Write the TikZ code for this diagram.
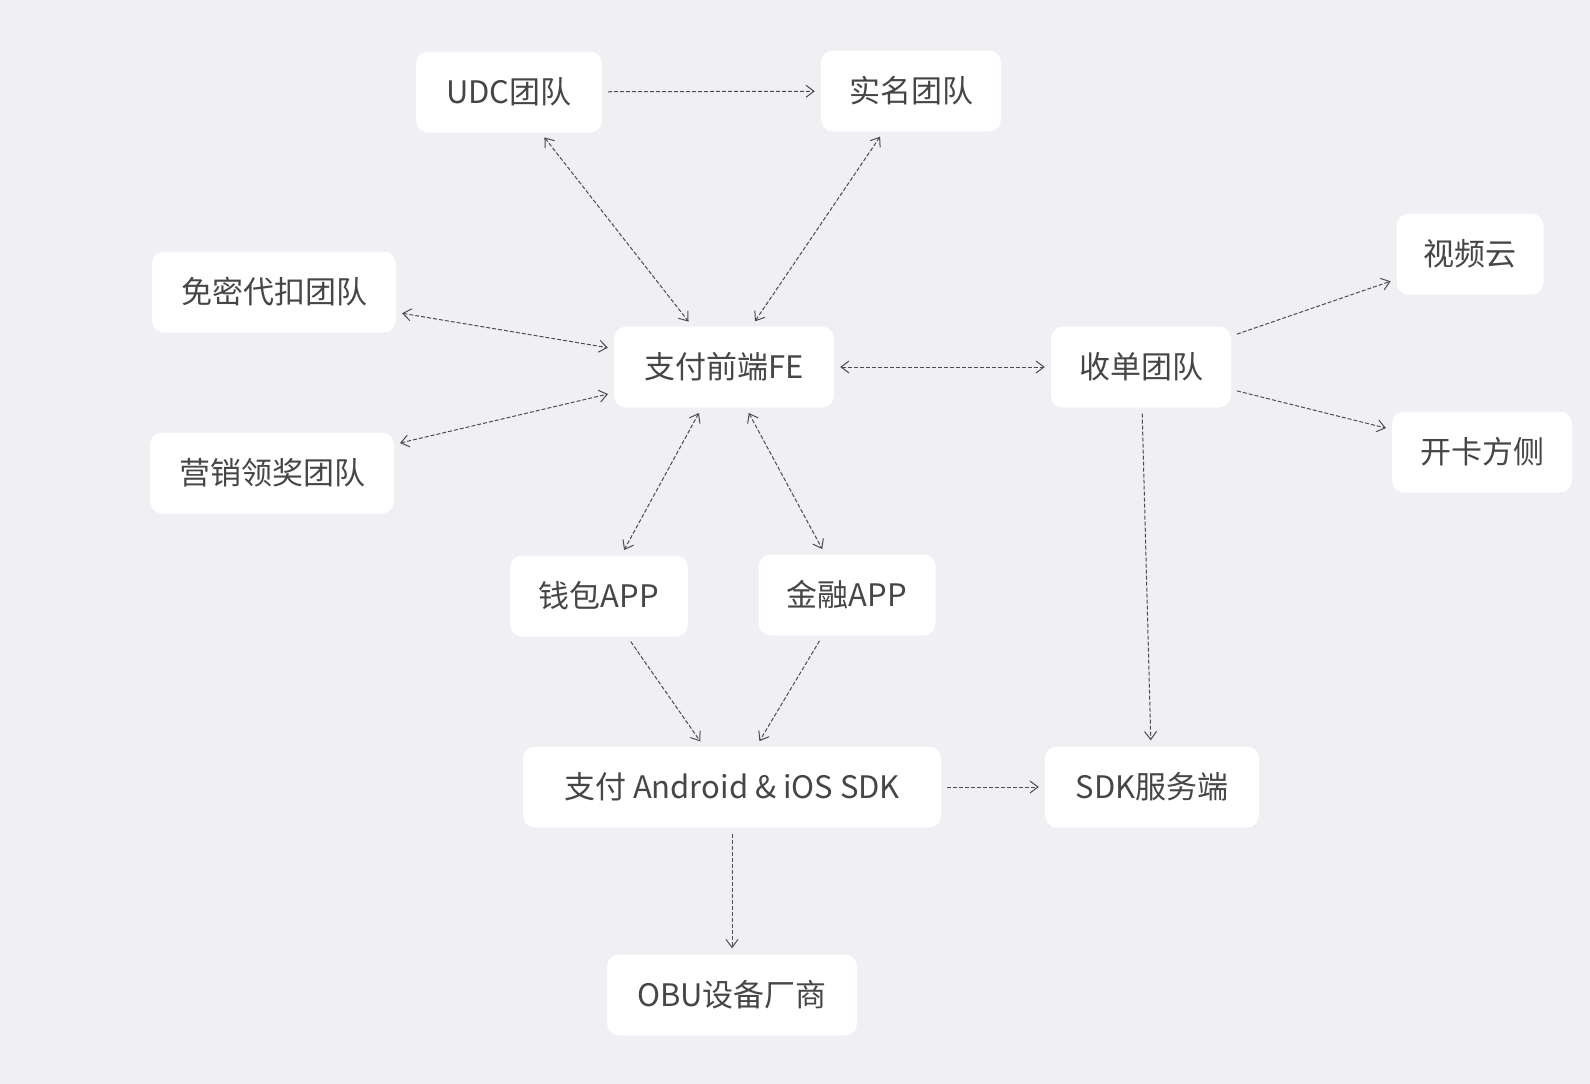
\documentclass[tikz,border=0pt]{standalone}
\usepackage{fontspec}
\setmainfont{Noto Sans CJK SC}
\usepackage{tikz}
\usetikzlibrary{arrows.meta,shapes}
\definecolor{bgcol}{RGB}{239,239,244}
\definecolor{txtcol}{RGB}{70,70,72}
\definecolor{linecol}{RGB}{75,75,80}
\tikzstyle{edge}=[
	->,
	draw=linecol,
	line width=1pt,
	dash pattern=on 4pt off 2pt,
	shorten >=6pt,
	shorten <=6pt
]
\tikzstyle{biedge}=[
	edge,
	<->
]
\tikzstyle{team}=[
	rectangle,
	rounded corners=12pt,
	fill=white,
	text=txtcol,
	font=\fontsize{31}{37}\selectfont,
	inner xsep=20pt,
	minimum height=81pt
]
\begin{document}
\begin{tikzpicture}[x=1pt,y=-1pt,>={Straight Barb[length=8pt,width=12pt]}]
\fill[bgcol] (0,0) rectangle (1590,1084);
\node[team, minimum width=186pt] (udc) at (509,92) {UDC团队};
\node[team, minimum width=180pt] (shiming) at (911,91) {实名团队};
\node[team, minimum width=244pt] (mianmi) at (274,292) {免密代扣团队};
\node[team, minimum width=220pt] (fe) at (724,367) {支付前端FE};
\node[team, minimum width=244pt] (yingxiao) at (272,473) {营销领奖团队};
\node[team, minimum width=180pt] (shoudan) at (1141,367) {收单团队};
\node[team, minimum width=147pt] (shipin) at (1470,254) {视频云};
\node[team, minimum width=180pt] (kaika) at (1482,452) {开卡方侧};
\node[team, minimum width=178pt] (qianbao) at (599,596) {钱包APP};
\node[team, minimum width=177pt] (jinrong) at (847,595) {金融APP};
\node[team, minimum width=418pt] (sdk) at (732,787) {支付 Android \& iOS SDK};
\node[team, minimum width=214pt] (sdkserver) at (1152,787) {SDK服务端};
\node[team, minimum width=250pt] (obu) at (732,995) {OBU设备厂商};

\draw[edge] (udc) to (shiming);
\draw[biedge] (udc) to (fe);
\draw[biedge] (shiming) to (fe);
\draw[biedge] (mianmi) to (fe);
\draw[biedge] (yingxiao) to (fe);
\draw[biedge] (fe) to (shoudan);
\draw[edge] (shoudan) to (shipin);
\draw[edge] (shoudan) to (kaika);
\draw[biedge] (fe) to (qianbao);
\draw[biedge] (fe) to (jinrong);
\draw[edge] (qianbao) to (sdk);
\draw[edge] (jinrong) to (sdk);
\draw[edge] (sdk) to (sdkserver);
\draw[edge] (shoudan) to (sdkserver);
\draw[edge] (sdk) to (obu);
\end{tikzpicture}
\end{document}
